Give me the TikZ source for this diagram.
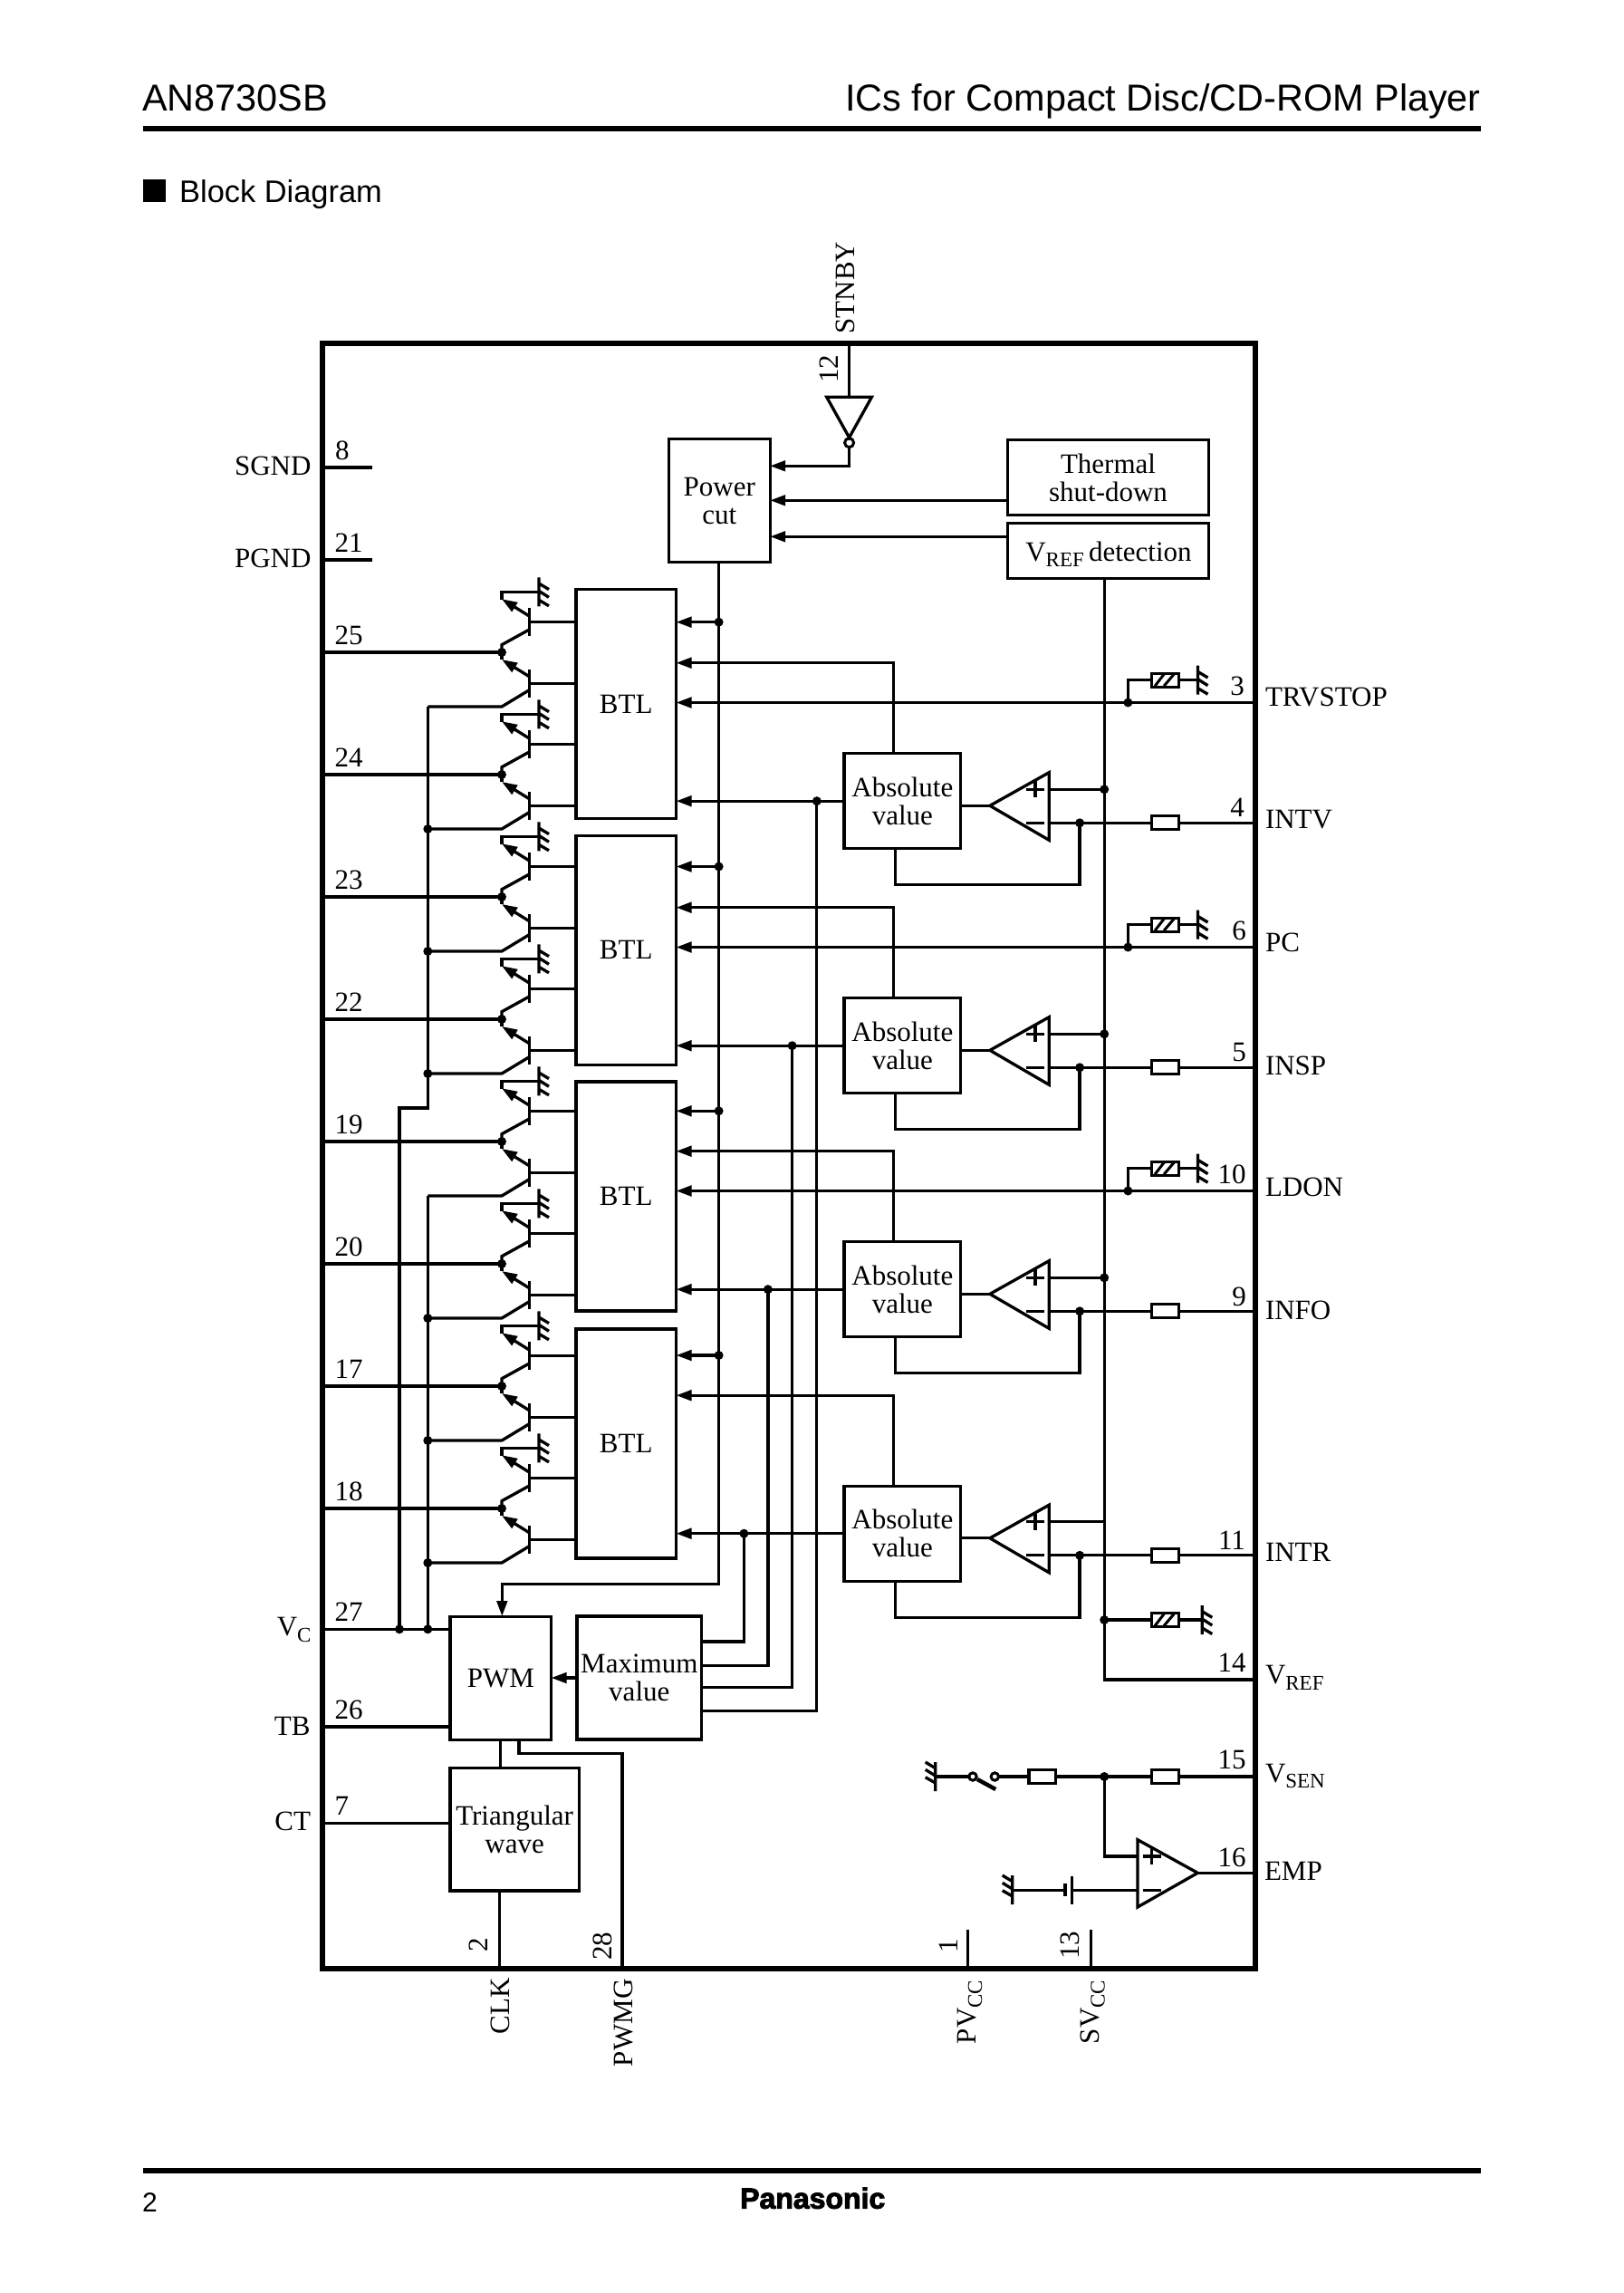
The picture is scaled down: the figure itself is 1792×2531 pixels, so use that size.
\documentclass[tikz,border=0pt]{standalone}
\usepackage{fontspec}
\setmainfont{Liberation Serif}
\newfontfamily\hdrfont{Liberation Sans}
\newfontfamily\panafont[BoldFeatures={FakeBold=3}]{Liberation Sans}
\usetikzlibrary{arrows.meta}
\newcommand{\sz}{\fontsize{31}{31}\selectfont}
\newcommand{\sbs}[1]{\raisebox{-6.5pt}{\fontsize{23}{23}\selectfont #1}}
\tikzset{
  wire/.style={line width=3.3pt,line join=miter},
  arrw/.style={wire,-{Triangle[length=17pt,width=11.5pt]}},
  bx/.style={draw,line width=3.3pt,outer sep=0pt,inner sep=0pt,align=center,font=\sz,text=black},
  rs/.style={draw,line width=3.3pt,outer sep=0pt,inner sep=0pt,minimum width=29.7pt,minimum height=15pt},
  txt/.style={font=\sz,inner sep=0pt,outer sep=0pt},
  junct/.style={fill=black,draw=none},
}
\newcommand{\dotat}[2]{\fill[junct] (#1,#2) circle (5pt);}
\newcommand{\gndR}[2]{\draw[wire] (#1,#2-16) -- (#1,#2+16)
   (#1,#2-9.3) -- (#1+11,#2-2.7) (#1,#2-1) -- (#1+11,#2+6) (#1,#2+9) -- (#1+11,#2+15.5);}
\newcommand{\gndL}[2]{\draw[wire] (#1,#2-16) -- (#1,#2+16)
   (#1,#2-9.3) -- (#1-11,#2-16) (#1,#2-1) -- (#1-11,#2-7.7) (#1,#2+7) -- (#1-11,#2+0.7);}
\newcommand{\hatchR}[2]{\draw[line width=3pt] (#1-11.5,#2+6.5) -- (#1-1.5,#2-6.5) (#1-1.5,#2+6.5) -- (#1+9.5,#2-6.5);}
\begin{document}
\begin{tikzpicture}[x=1pt,y=-1pt]
\useasboundingbox (0,0) rectangle (1792,2531);
\fill[white] (0,0) rectangle (1792,2531);

% page furniture
\coordinate (hl) at (157.5,142); \coordinate (hr) at (1635,142);
\coordinate (fl) at (157.5,2396); \coordinate (fr) at (1635,2396);
\draw[line width=6pt] (hl) -- (hr);
\draw[line width=6pt] (fl) -- (fr);
\node[anchor=base west,inner sep=0pt,font=\hdrfont\fontsize{41.4}{40}\selectfont] (tleft) at (157,122.5) {AN8730SB};
\node[anchor=base east,inner sep=0pt,font=\hdrfont\fontsize{41.4}{40}\selectfont] (tright) at (1635,122.5) {ICs for Compact Disc/CD-ROM Player};
\fill (157.5,198) rectangle (182.7,222.7);
\node[anchor=base west,inner sep=0pt,font=\hdrfont\fontsize{34.4}{34}\selectfont] (tblock) at (198,223.5) {Block Diagram};
\node[anchor=base west,inner sep=0pt,font=\hdrfont\fontsize{30}{30}\selectfont] (tpage) at (157,2441.5) {2};
\node[anchor=base west,inner sep=0pt,font=\panafont\bfseries\fontsize{32}{32}\selectfont] (tpana) at (817,2437.7) {Panasonic};

% IC outline
\node[draw,line width=6pt,outer sep=0pt,inner sep=0pt,minimum width=1030.3pt,minimum height=1793.4pt] (ic) at (870.85,1276) {};

% blocks
\node[bx,minimum width=110.5pt,minimum height=253pt] (btl1) at (691.25,777) {BTL};
\node[bx,minimum width=110.5pt,minimum height=253pt] (btl2) at (691.25,1048.7) {BTL};
\node[bx,minimum width=110.5pt,minimum height=253pt] (btl3) at (691.25,1320.5) {BTL};
\node[bx,minimum width=110.5pt,minimum height=253pt] (btl4) at (691.25,1593.5) {BTL};
\node[bx,minimum width=111.8pt,minimum height=136.4pt] (pcut) at (794.3,552.5) {Power\\cut};
\node[bx,minimum width=221.6pt,minimum height=82.6pt] (therm) at (1223.5,527) {Thermal\\shut-down};
\node[bx,minimum width=221.6pt,minimum height=61pt] (vdet) at (1223.5,607.8) {};
\node[txt,anchor=base] (vdett) at (1224,619.3) {V\sbs{REF}\,detection};
\node[bx,minimum width=111.6pt,minimum height=136pt] (pwm) at (552.8,1852.5) {PWM};
\node[bx,minimum width=137.6pt,minimum height=136pt] (maxv) at (705.8,1852) {Maximum\\value};
\node[bx,minimum width=142.3pt,minimum height=135.3pt] (tri) at (568.15,2019.3) {Triangular\\wave};

% transistor pairs
\foreach \n/\P/\B in {25/720/1,24/855/1,23/990/2,22/1125/2,19/1260/3,20/1395/3,17/1530/4,18/1665/4}{
  \pgfmathsetmacro{\gy}{\P-66.7}
  \pgfmathsetmacro{\ba}{\P-33.3}
  \pgfmathsetmacro{\bb}{\P+34.3}
  \coordinate (n\n) at (554,\P);
  \draw[wire] (ic.west |- 0,\P) -- (n\n);
  \node[txt,anchor=base west] (lab\n) at (369.5,\P-8.5) {\n};
  \dotat{554}{\P}
  % upper transistor
  \gndR{595}{\gy}
  \draw[wire] (595,\gy) -- (554,\gy) -- (554,\P-58.3);
  \draw[arrw] (584.3,\P-40) -- (554,\P-58.8);
  \draw[wire] (584.3,\P-49) -- (584.3,\P-18);
  \draw[wire] (584.3,\ba) -- (btl\B.west |- 0,\ba);
  \draw[wire] (584.3,\P-25) -- (554,\P-8.3) -- (n\n);
  % lower transistor
  \draw[wire] (n\n) -- (554,\P+8.3);
  \draw[arrw] (584.3,\P+26.7) -- (554,\P+8);
  \draw[wire] (584.3,\P+19) -- (584.3,\P+50);
  \draw[wire] (584.3,\bb) -- (btl\B.west |- 0,\bb);
  \draw[wire] (584.3,\P+41.7) -- (554,\P+60) -- (472.3,\P+60);
}
% collector buses
\coordinate (vcA) at (441,1798.3);
\coordinate (vcB) at (472.3,1798.3);
\draw[wire] (472.3,780) -- (472.3,1223) -- (441,1223) -- (vcA);
\draw[wire] (472.3,1320) -- (vcB);
\foreach \y in {915,1050,1185,1455,1590,1725}{\dotat{472.3}{\y}}
\draw[wire] (ic.west |- vcA) -- (pwm.west |- vcA);
\dotat{441}{1798.3} \dotat{472.3}{1798.3}

% other left pins
\coordinate (sgnd) at (411,516);
\coordinate (pgnd) at (411,618);
\draw[wire] (ic.west |- sgnd) -- (sgnd);
\draw[wire] (ic.west |- pgnd) -- (pgnd);
\node[txt,anchor=base east] (lsgnd) at (343.5,524.3) {SGND};
\node[txt,anchor=base east] (lpgnd) at (343.5,626.7) {PGND};
\node[txt,anchor=base west] (l8) at (370,507.3) {8};
\node[txt,anchor=base west] (l21) at (369.5,609.3) {21};
\node[txt,anchor=base east] (lvc) at (343.5,1805.7) {V\sbs{C}};
\node[txt,anchor=base east] (ltb) at (342.5,1915) {TB};
\node[txt,anchor=base east] (lct) at (343,2020.7) {CT};
\node[txt,anchor=base west] (l27) at (369.5,1789.3) {27};
\node[txt,anchor=base west] (l26) at (369.5,1897.3) {26};
\node[txt,anchor=base west] (l7) at (369.5,2003.3) {7};
\draw[wire] (ic.west |- 0,1906) -- (pwm.west |- 0,1906);
\draw[wire] (ic.west |- 0,2012.3) -- (tri.west |- 0,2012.3);

% PWM connections
\draw[wire] (552.5,1920) -- (552.5,1951.7);
\draw[wire] (551.4,2087) -- (551.4,2172.7);
\draw[wire] (572.9,1920) -- (572.9,1935.3) -- (687,1935.3) -- (687,2172.7);
\draw[arrw] (maxv.west) -- (pwm.east |- maxv.west);
\draw[arrw] (793.6,620.7) -- (793.6,1748.3) -- (554.3,1748.3) -- (554.3,1784);

% power cut
\coordinate (stb) at (937.6,379.3);
\draw[wire] (stb) -- (937.6,438.3);
\draw[wire,line join=miter] (912.7,438.3) -- (962.4,438.3) -- (937.6,483) -- cycle;
\draw[line width=3pt] (937.6,488.7) circle (5pt);
\draw[arrw] (937.6,493.7) -- (937.6,514.3) -- (pcut.east |- 0,514.3);
\draw[arrw] (therm.west |- 0,552.3) -- (pcut.east |- 0,552.3);
\draw[arrw] (vdet.west |- 0,592.3) -- (pcut.east |- 0,592.3);
\node[txt,rotate=90,anchor=base west] (lstnby) at (943,368.3) {STNBY};
\node[txt,rotate=90] (l12) at (915.5,407.3) {12};

% BTL supply arrows
\foreach \B/\y in {1/686.7,2/956.5,3/1226.3,4/1496}{
  \draw[arrw] (793.6,\y) -- (btl\B.east |- 0,\y);
  \dotat{793.6}{\y}
}

% reference bus
\draw[wire] (1219.2,638.3) -- (1219.2,1854) -- (ic.east |- 0,1854);

% four channels
\foreach \k/\D/\dx/\my in {1/0/901.8/1888.3,2/270/874.6/1862.3,3/539/847.9/1838.3,4/808.5/821.4/1812}{
  \pgfmathsetmacro{\cy}{884.2+\D}
  \pgfmathsetmacro{\ty}{889.3+\D}
  \pgfmathsetmacro{\py}{871.3+\D}
  \pgfmathsetmacro{\my}{908.3+\D}
  \pgfmathsetmacro{\fy}{976.7+\D}
  \pgfmathsetmacro{\ay}{731.7+\D}
  \node[bx,minimum width=128.7pt,minimum height=105pt] (abs\k) at (996.35,\cy) {Absolute\\value};
  \draw[arrw] (abs\k.west) -- (btl\k.east |- abs\k.west);
  \dotat{\dx}{\cy}
  \draw[arrw] (986.8,\cy-52.5) -- (986.8,\ay) -- (btl\k.east |- 0,\ay);
  \draw[wire] (1060.7,\ty) -- (1092.9,\ty);
  \draw[wire] (1092.9,\ty) -- (1158.2,\ty-36.6) -- (1158.2,\ty+38) -- cycle;
  \draw[wire] (1132.9,\py) -- (1152.9,\py) (1142.9,\py-9) -- (1142.9,\py+9);
  \draw[wire] (1132.9,\my) -- (1152.9,\my);
  \draw[wire] (1158.2,\py) -- (1219.2,\py);
  \node[rs] (r\k) at (1286.6,\my) {};
  \draw[wire] (1158.2,\my) -- (r\k.west);
  \draw[wire] (r\k.east) -- (ic.east |- r\k.east);
  \dotat{1192.1}{\my}
  \draw[wire] (988.2,\cy+52.5) -- (988.2,\fy) -- (1192.1,\fy) -- (1192.1,\my);
}
\foreach \y in {871.3,1141.3,1410.3}{\dotat{1219.2}{\y}}
% maximum value taps
\draw[wire] (maxv.east |- 0,1888.3) -- (901.8,1888.3) -- (901.8,884.2);
\draw[wire] (maxv.east |- 0,1862.3) -- (874.6,1862.3) -- (874.6,1154.2);
\draw[wire] (maxv.east |- 0,1838.3) -- (847.9,1838.3) -- (847.9,1423.2);
\draw[wire] (maxv.east |- 0,1812) -- (821.4,1812) -- (821.4,1692.7);

% pins with filter networks
\foreach \k/\D in {1/0,2/270,3/539}{
  \pgfmathsetmacro{\hy}{750.7+\D}
  \pgfmathsetmacro{\ly}{775.5+\D}
  \draw[arrw] (ic.east |- 0,\ly) -- (btl\k.east |- 0,\ly);
  \dotat{1245.4}{\ly}
  \node[rs] (hr\k) at (1286.6,\hy) {};
  \hatchR{1286.6}{\hy}
  \draw[wire] (1245.4,\ly) -- (1245.4,\hy) -- (hr\k.west);
  \draw[wire] (hr\k.east) -- (1322.5,\hy);
  \gndR{1322.5}{\hy}
}
% V_REF filter
\node[rs] (hr4) at (1286.6,1788) {};
\hatchR{1286.6}{1788}
\dotat{1219.2}{1788}
\draw[wire] (1219.2,1788) -- (hr4.west);
\draw[wire] (hr4.east) -- (1327.3,1788);
\gndR{1327.3}{1788}

% V_SEN, EMP
\node[rs] (r15) at (1286.6,1961) {};
\node[rs] (r15b) at (1150.85,1961) {};
\coordinate (ga) at (1032.7,1961);
\draw[wire] (r15.east) -- (ic.east |- r15.east);
\draw[wire] (r15.west) -- (r15b.east);
\dotat{1219.2}{1961}
\draw[wire] (r15b.west) -- (1103,1961);
\draw[line width=3pt] (1098.3,1961) circle (4.2pt);
\draw[line width=3pt] (1074,1961) circle (4.2pt);
\draw[line width=4.5pt] (1079,1964) -- (1099.3,1975);
\draw[wire] (1069.8,1961) -- (ga);
\gndL{1032.7}{1961}
\draw[wire] (1219.2,1961) -- (1219.2,2049) -- (1256,2049);
\draw[wire] (1256,2030.7) -- (1322.3,2067.3) -- (1256,2105) -- cycle;
\draw[wire] (1261.7,2049) -- (1281.7,2049) (1271.7,2040) -- (1271.7,2058);
\draw[wire] (1261.7,2086.3) -- (1281.7,2086.3);
\draw[wire] (1322.3,2067.3) -- (ic.east |- 0,2067.3);
\draw[wire] (1256,2086.3) -- (1183.3,2086.3);
\draw[wire] (1183.3,2070.7) -- (1183.3,2101.7);
\draw[wire] (1176,2079) -- (1176,2093);
\draw[wire] (1176,2086.3) -- (1117.7,2086.3);
\gndL{1117.7}{2086}

% PV/SV pins
\draw[wire] (1068.3,2130) -- (1068.3,2172.7);
\draw[wire] (1204.3,2130) -- (1204.3,2172.7);

% right labels
\foreach \t/\x/\y in {3/1366/757,4/1366/891,6/1368/1027,5/1368/1161.7,10/1360/1296,9/1368/1431.5,11/1360/1700,14/1360/1835,15/1360/1942.7,16/1360/2050.7}{
  \node[txt] (p\t) at (\x,\y) {\t};
}
\node[txt,anchor=base west] (ltrv) at (1397,779.5) {TRVSTOP};
\node[txt,anchor=base west] (lintv) at (1397,914.5) {INTV};
\node[txt,anchor=base west] (lpc) at (1397,1050) {PC};
\node[txt,anchor=base west] (linsp) at (1397,1186) {INSP};
\node[txt,anchor=base west] (lldon) at (1397,1320) {LDON};
\node[txt,anchor=base west] (linfo) at (1397,1456) {INFO};
\node[txt,anchor=base west] (lintr) at (1397,1723) {INTR};
\node[txt,anchor=base west] (lvref) at (1397,1858.7) {V\sbs{REF}};
\node[txt,anchor=base west] (lvsen) at (1397,1967) {V\sbs{SEN}};
\node[txt,anchor=base west] (lemp) at (1396,2075) {EMP};

% bottom labels
\node[txt,rotate=90] (l2) at (528.2,2146.7) {2};
\node[txt,rotate=90] (l28) at (665.6,2148) {28};
\node[txt,rotate=90] (l1) at (1047.3,2148) {1};
\node[txt,rotate=90] (l13) at (1181.7,2147) {13};
\node[txt,rotate=90,anchor=base west] (lclk) at (562,2245) {CLK};
\node[txt,rotate=90,anchor=base west] (lpwmg) at (698.5,2281) {PWMG};
\node[txt,rotate=90,anchor=base west] (lpv) at (1077.5,2256) {PV\sbs{CC}};
\node[txt,rotate=90,anchor=base west] (lsv) at (1213,2256) {SV\sbs{CC}};
\end{tikzpicture}
\end{document}
